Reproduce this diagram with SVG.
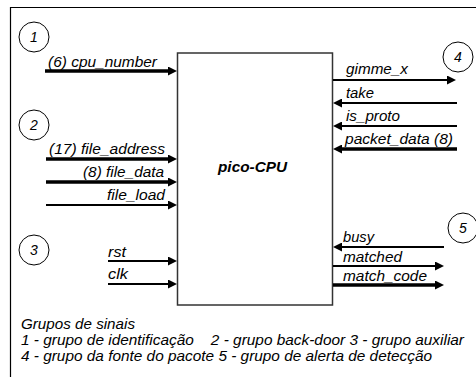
<svg xmlns="http://www.w3.org/2000/svg" width="476" height="379" viewBox="0 0 476 379">
<defs>
<marker id="ah" markerUnits="userSpaceOnUse" markerWidth="10" markerHeight="9" refX="3" refY="4.5" orient="auto"><path d="M0,0 L9,4.5 L0,9 z" fill="#000"/></marker>
<style>
.t{font-family:"Liberation Sans",Arial,Helvetica,sans-serif;font-style:italic;font-size:14px;fill:#000}
.b{font-weight:bold;font-size:14.5px}
.m{text-anchor:middle}
.sig{stroke:#000;stroke-width:2;fill:none;marker-end:url(#ah)}
.bus{stroke:#000;stroke-width:3.5;fill:none;marker-end:url(#ah)}
.c{fill:#fff;stroke:#000;stroke-width:1}
</style>
</defs>
<rect width="476" height="379" fill="#fff"/>
<path d="M476,7.5 H10.5 V377" stroke="#000" stroke-width="1.2" fill="none"/>

<g id="cpu">
<rect x="177.5" y="53" width="155" height="252" fill="#fff" stroke="#333" stroke-width="1.5"/>
<text class="t b" x="218" y="172" textLength="69" lengthAdjust="spacingAndGlyphs">pico-CPU</text>
</g>

<g id="g1"><circle class="c" cx="34" cy="37" r="15"/><text class="t m" x="34" y="42">1</text></g>
<g id="g2"><circle class="c" cx="34" cy="125" r="15"/><text class="t m" x="34" y="130">2</text></g>
<g id="g3"><circle class="c" cx="34" cy="250" r="15"/><text class="t m" x="34" y="255">3</text></g>
<g id="g4"><circle class="c" cx="458" cy="57" r="15"/><text class="t m" x="458" y="62">4</text></g>
<g id="g5"><circle class="c" cx="463" cy="228" r="15"/><text class="t m" x="463" y="233">5</text></g>

<g id="connectors">
<path class="bus" d="M45,71 H171"/>
<path class="bus" d="M46,159 H171"/>
<path class="bus" d="M46,182 H171"/>
<path class="sig" d="M46,205 H171"/>
<path class="sig" d="M108,261 H171"/>
<path class="sig" d="M108,284 H171"/>
<path class="sig" d="M333,80 H450"/>
<path class="sig" d="M457,103 H339"/>
<path class="sig" d="M457,126 H339"/>
<path class="bus" d="M457,149 H339"/>
<path class="sig" d="M444,247 H339"/>
<path class="sig" d="M333,266 H438"/>
<path class="bus" d="M333,285 H438"/>
</g>

<g id="labels">
<text class="t" x="48" y="67" textLength="109" lengthAdjust="spacingAndGlyphs">(6) cpu_number</text>
<text class="t" x="49" y="154" textLength="116" lengthAdjust="spacingAndGlyphs">(17) file_address</text>
<text class="t" x="83" y="177" textLength="81" lengthAdjust="spacingAndGlyphs">(8) file_data</text>
<text class="t" x="107" y="200" textLength="58" lengthAdjust="spacingAndGlyphs">file_load</text>
<text class="t" x="108" y="256.5" textLength="18" lengthAdjust="spacingAndGlyphs">rst</text>
<text class="t" x="108" y="279" textLength="20" lengthAdjust="spacingAndGlyphs">clk</text>
<text class="t" x="346" y="74" textLength="62" lengthAdjust="spacingAndGlyphs">gimme_x</text>
<text class="t" x="346" y="98" textLength="28" lengthAdjust="spacingAndGlyphs">take</text>
<text class="t" x="346" y="121" textLength="54" lengthAdjust="spacingAndGlyphs">is_proto</text>
<text class="t" x="345" y="144" textLength="108" lengthAdjust="spacingAndGlyphs">packet_data (8)</text>
<text class="t" x="343" y="242" textLength="31" lengthAdjust="spacingAndGlyphs">busy</text>
<text class="t" x="343" y="261.5" textLength="59" lengthAdjust="spacingAndGlyphs">matched</text>
<text class="t" x="343" y="280.5" textLength="84" lengthAdjust="spacingAndGlyphs">match_code</text>
</g>

<g id="legend">
<text class="t" x="21" y="329" textLength="114" lengthAdjust="spacingAndGlyphs">Grupos de sinais</text>
<text class="t" x="21" y="345" xml:space="preserve" textLength="443" lengthAdjust="spacingAndGlyphs">1 - grupo de identificação    2 - grupo back-door 3 - grupo auxiliar</text>
<text class="t" x="21" y="361" textLength="411" lengthAdjust="spacingAndGlyphs">4 - grupo da fonte do pacote 5 - grupo de alerta de detecção</text>
</g>
</svg>
